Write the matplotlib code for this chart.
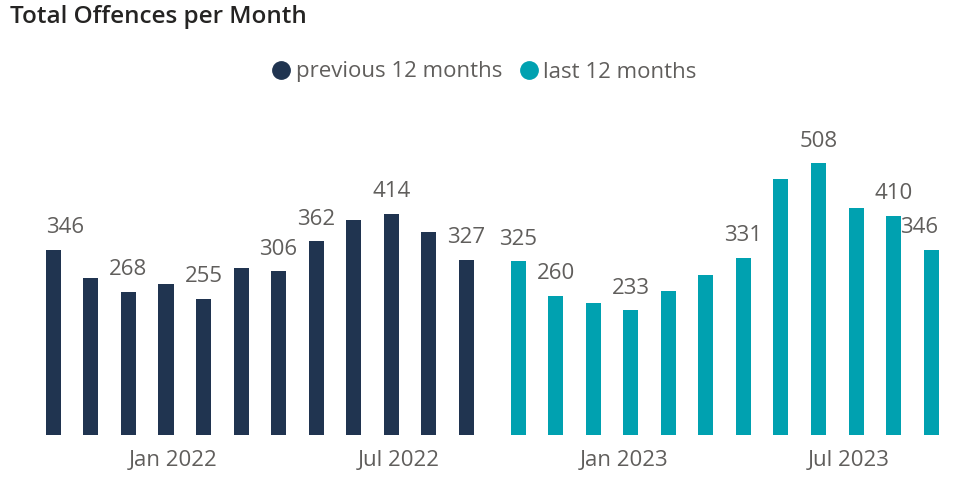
import numpy as np
import matplotlib
matplotlib.use('Agg')
import matplotlib.pyplot as plt
from matplotlib.lines import Line2D

plt.rcParams['font.family'] = ['Open Sans', 'DejaVu Sans']

PREV_COLOR = '#203450'   # navy
LAST_COLOR = '#00A1B0'   # teal
LABEL_COLOR = '#605E5C'
TITLE_COLOR = '#252423'

# Oct 2021 .. Sep 2022 and Oct 2022 .. Sep 2023
prev_values = [346, 293, 268, 282, 255, 312, 306, 362, 402, 414, 380, 327]
last_values = [325, 260, 246, 233, 270, 299, 331, 478, 508, 424, 410, 346]

# which bars carry a data label (Power BI drops overlapping ones)
prev_labelled = [True, False, True, False, True, False, True, True, False, True, False, True]
last_labelled = [True, True, False, True, False, False, True, False, True, False, True, True]

tick_months = [3, 9, 15, 21]
tick_labels = ['Jan 2022', 'Jul 2022', 'Jan 2023', 'Jul 2023']

W, H = 967, 493
fig = plt.figure(figsize=(W / 100, H / 100), dpi=100)
ax = fig.add_axes([40 / W, (H - 435) / H, (945 - 40) / W, (435 - 120) / H])

# clustered layout on a continuous month axis: each series keeps its own slot
bw = 0.4
shift = 0.19
x_prev = np.arange(len(prev_values)) - shift
x_last = np.arange(len(last_values)) + len(prev_values) + shift

ax.bar(x_prev, prev_values, width=bw, color=PREV_COLOR)
ax.bar(x_last, last_values, width=bw, color=LAST_COLOR)

all_x = np.concatenate([x_prev, x_last])
all_v = prev_values + last_values
all_lab = prev_labelled + last_labelled
n = len(all_v)
for i, (xx, v, lab) in enumerate(zip(all_x, all_v, all_lab)):
    if not lab:
        continue
    if i == 0:
        xpos, ha = xx - bw / 2, 'left'
    elif i == n - 1:
        xpos, ha = xx + bw / 2, 'right'
    else:
        xpos, ha = xx, 'center'
    ax.annotate(str(v), (xpos, v), xytext=(0, 12), textcoords='offset points',
                ha=ha, va='baseline', fontsize=16, color=LABEL_COLOR)

ax.set_xlim(-0.546, 23.56)
ax.set_ylim(0, 589)
ax.set_xticks(tick_months)
ax.set_xticklabels(tick_labels, fontsize=16, color=LABEL_COLOR)
ax.tick_params(axis='x', length=0, pad=11)
ax.set_yticks([])
for s in ax.spines.values():
    s.set_visible(False)

fig.text(10 / W, 1 - 17 / H, 'Total Offences per Month', fontsize=17.5,
         fontweight='semibold', color=TITLE_COLOR, va='center', ha='left')

handles = [Line2D([], [], marker='o', linestyle='', markersize=12.5, color=PREV_COLOR),
           Line2D([], [], marker='o', linestyle='', markersize=12.5, color=LAST_COLOR)]
fig.legend(handles, ['previous 12 months', 'last 12 months'], loc='center',
           bbox_to_anchor=(0.5, 1 - 72 / H), ncol=2, frameon=False, fontsize=16,
           handletextpad=0.15, columnspacing=0.7, labelcolor=LABEL_COLOR,
           handlelength=1.0)

fig.savefig('out.png', dpi=100)
